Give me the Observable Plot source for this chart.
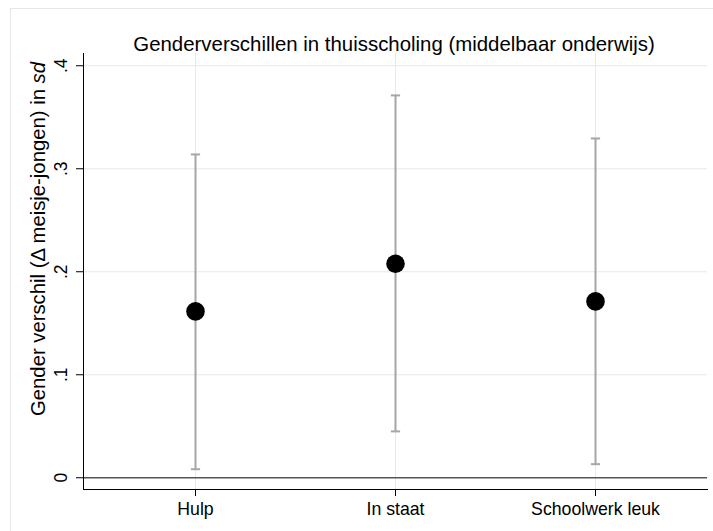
<!DOCTYPE html>
<html><head><meta charset="utf-8">
<script src="https://cdn.jsdelivr.net/npm/d3@7"></script>
<script src="https://cdn.jsdelivr.net/npm/@observablehq/plot@0.6"></script>
<style>
html,body{margin:0;padding:0;background:#fff;overflow:hidden;}
#wrap{position:relative;width:713px;height:531px;overflow:hidden;}
#border{position:absolute;left:10px;top:8px;width:800px;height:600px;border:1px solid #e6e6e6;box-sizing:border-box;z-index:2;pointer-events:none;}
#chart{position:absolute;left:0;top:0;z-index:1;}
</style></head><body>
<div id="wrap"><div id="chart"></div><div id="border"></div></div>
<script>
const categories = ["Hulp", "In staat", "Schoolwerk leuk"];
const estimates = [0.1615, 0.2078, 0.1712];
const lowerCI = [0.0083, 0.0450, 0.0132];
const upperCI = [0.3139, 0.3712, 0.3294];
const yTicks = [0, 0.1, 0.2, 0.3, 0.4];
const yTickLabels = ["0", ".1", ".2", ".3", ".4"];
const title = "Genderverschillen in thuisscholing (middelbaar onderwijs)";
const yLabel = "Gender verschil (\u0394 meisje-jongen) in ";
const yLabelItalic = "sd";

const data = categories.map((c, i) => ({cat: c, est: estimates[i], lo: lowerCI[i], hi: upperCI[i]}));
const yDomain = [-0.0114, 0.4119];
const capSymbol = {draw(ctx, size) { ctx.moveTo(-4.6, 0); ctx.lineTo(4.6, 0); }};
const font = "'Liberation Sans', Arial, sans-serif";
const barColor = "#a6a6a6";
const gridColor = "#e8e8e8";

const plot = Plot.plot({
  width: 713, height: 531,
  marginLeft: 83, marginRight: 6, marginTop: 53, marginBottom: 42,
  style: {fontFamily: font, background: "white", overflow: "visible"},
  x: {type: "point", domain: categories, padding: 0.56, label: null},
  y: {domain: yDomain, label: null},
  marks: [
    Plot.gridY(yTicks.filter(d => d !== 0), {stroke: gridColor, strokeOpacity: 1, strokeWidth: 1}),
    Plot.gridX(categories, {stroke: gridColor, strokeOpacity: 1, strokeWidth: 1}),
    Plot.ruleY([0], {stroke: "#555", strokeWidth: 1.6}),
    Plot.ruleX(data, {x: "cat", y1: "lo", y2: "hi", stroke: barColor, strokeWidth: 2}),
    Plot.dot(data, {x: "cat", y: "lo", symbol: capSymbol, r: 5, fill: "none", stroke: barColor, strokeWidth: 2}),
    Plot.dot(data, {x: "cat", y: "hi", symbol: capSymbol, r: 5, fill: "none", stroke: barColor, strokeWidth: 2}),
    Plot.dot(data, {x: "cat", y: "est", r: 9.3, fill: "black", stroke: "none"}),
    Plot.frame({anchor: "left", stroke: "black", strokeWidth: 1}),
    Plot.frame({anchor: "bottom", stroke: "black", strokeWidth: 1}),
    Plot.axisX({tickSize: 7, tickPadding: 6, fontSize: 17.7, fill: "black", stroke: "black", label: null}),
    Plot.axisY(yTicks, {tickSize: 7, tickFormat: () => "", stroke: "black", label: null}),
    Plot.text(yTicks, {y: d => d, text: (d, i) => yTickLabels[i], frameAnchor: "left", rotate: -90, dx: -22, fontSize: 17.5, textAnchor: "middle", fill: "black"}),
    Plot.text([yLabel + yLabelItalic], {frameAnchor: "left", rotate: -90, dx: -45.5, dy: -32.5, fontSize: 20.3, textAnchor: "middle", fill: "black"}),
    Plot.text([title], {frameAnchor: "top", dx: -1.5, dy: -17, fontSize: 20.4, fill: "black"})
  ]
});

d3.select(plot).selectAll("text").each(function() {
  if (this.textContent === yLabel + yLabelItalic) {
    const t = d3.select(this);
    t.text(null);
    t.append("tspan").text(yLabel);
    t.append("tspan").attr("font-style", "italic").text(yLabelItalic);
  }
});

document.getElementById("chart").appendChild(plot);
</script>
</body></html>
